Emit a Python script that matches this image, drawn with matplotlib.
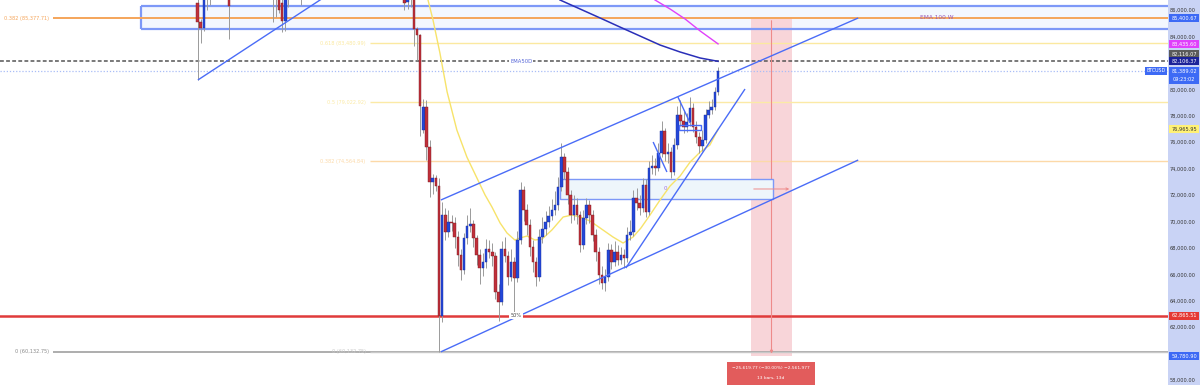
import matplotlib
matplotlib.use('Agg')
import matplotlib.pyplot as plt
from matplotlib.patches import Rectangle
import matplotlib.transforms as mtransforms

plt.rcParams['font.family'] = ['DejaVu Sans']

# ---------------- data ----------------
days = [-77, -76, -75, -74, -73, -67, -53, -52, -51, -50, -49, -48, -44,
        -11, -10, -9, -8, -7, -6, -5, -4, -3, -2, -1,
        0, 1, 2, 3, 4, 5, 6, 7, 8, 9, 10, 11, 12, 13, 14, 15, 16, 17, 18, 19,
        20, 21, 22, 23, 24, 25, 26, 27, 28, 29, 30, 31, 32, 33, 34, 35, 36, 37, 38, 39,
        40, 41, 42, 43, 44, 45, 46, 47, 48, 49, 50, 51, 52, 53, 54, 55, 56, 57, 58, 59,
        60, 61, 62, 63, 64, 65, 66, 67, 68, 69, 70, 71, 72, 73, 74, 75, 76, 77, 78, 79,
        80, 81, 82, 83, 84, 85, 86, 87, 88, 89]
opens = [86530, 85090, 84630, 87800, 87500, 87000, 87600, 87500, 87300, 86500, 85200, 87200, 87600,
         87200, 86600, 87600, 86900, 84560, 84100, 76900, 78660, 75630, 72980, 73300,
         72700, 62866, 70480, 69200, 69960, 69880, 68820, 67460, 66320, 68750, 69650, 69800, 68750, 67460, 66480, 66930, 67910, 67690, 67380, 64660,
         63900, 67910, 67380, 65790, 66930, 65720, 68590, 72380, 70860, 69730, 68060, 66930, 65790, 68820, 69430, 69960, 70410, 70860, 71240, 72600,
         74880, 73740, 72000, 70490, 71240, 70490, 68220, 70260, 71240, 70490, 68970, 67690, 65950, 65340, 65790, 67840, 66930, 67690, 67080, 67460,
         67230, 68970, 69200, 71770, 71390, 71020, 72760, 70710, 74040, 74190, 74040, 75180, 76840, 75100, 75250, 73740, 75780, 78050, 77600, 77150,
         77520, 78580, 77150, 76390, 75710, 76160, 78050, 78430, 78660, 79790]
highs = [87200, 85300, 87600, 88000, 88200, 87300, 87900, 87800, 87600, 86800, 87400, 87800, 88200,
         87600, 87500, 87900, 87100, 84700, 84200, 79300, 79200, 76200, 73600, 73500,
         73300, 71470, 71000, 70900, 70500, 70300, 69300, 67900, 69100, 70500, 71000, 70100, 69000, 67900, 67600, 68700, 68600, 68400, 67700, 65300,
         68500, 68800, 67800, 67900, 67300, 69300, 73000, 72700, 71300, 70200, 68600, 67300, 69400, 70300, 70800, 71200, 71700, 72300, 73400, 75900,
         75200, 74100, 72400, 72000, 71800, 70800, 70900, 71800, 71600, 70900, 69400, 68100, 66600, 66400, 68400, 68300, 68500, 68200, 68100, 67900,
         69600, 70100, 72400, 72500, 72000, 73300, 73200, 74600, 75000, 74800, 75900, 77600, 77100, 75900, 75600, 76300, 78700, 79200, 78400, 78200,
         79400, 79000, 77600, 76800, 76900, 78500, 79100, 79300, 80200, 81700]
lows = [80700, 83500, 84400, 86000, 86400, 83800, 85100, 85500, 85800, 84300, 84400, 86200, 86350,
        86000, 86100, 86200, 83300, 82200, 76500, 76700, 74650, 71850, 72100, 72300,
        60133, 62400, 68600, 68800, 69300, 68000, 66600, 65600, 66000, 68300, 69200, 68100, 66700, 65300, 65900, 66500, 67200, 66600, 64100, 62500,
        63700, 66900, 65200, 65500, 63100, 65400, 68300, 70000, 69000, 67400, 66200, 65100, 65500, 68400, 69000, 69600, 70100, 70500, 70900, 72300,
        73200, 71300, 69900, 70100, 69800, 67700, 67900, 69800, 69900, 68500, 67000, 65300, 64900, 64700, 65500, 66400, 66600, 66700, 66800, 66500,
        66900, 68600, 68900, 70900, 70500, 70700, 70300, 70500, 73600, 73500, 73800, 74900, 74600, 74400, 73300, 73500, 75500, 77200, 76700, 76800,
        77200, 76800, 75900, 75200, 75300, 75900, 77800, 78100, 78400, 79600]
closes = [85090, 84630, 87200, 87300, 87900, 86300, 87300, 87000, 86000, 85200, 87100, 87500, 87900,
          86500, 87300, 86900, 84560, 84100, 78700, 78660, 75630, 72980, 73300, 72700,
          62866, 70480, 69200, 69960, 69880, 68820, 67460, 66320, 68750, 69650, 69800, 68750, 67460, 66480, 66930, 67910, 67690, 67380, 64660, 63900,
          67910, 67380, 65790, 66930, 65720, 68590, 72380, 70860, 69730, 68060, 66930, 65790, 68820, 69430, 69960, 70410, 70860, 71240, 72600, 74880,
          73740, 72000, 70490, 71240, 70490, 68220, 70260, 71240, 70490, 68970, 67690, 65950, 65340, 65790, 67840, 66930, 67690, 67080, 67460, 67230,
          68970, 69200, 71770, 71390, 71020, 72760, 70710, 74040, 74190, 74040, 75180, 76840, 75100, 75250, 73740, 75780, 78050, 77600, 77150, 77520,
          78580, 77150, 76390, 75710, 76160, 78050, 78430, 78660, 79790, 81389.02]

ema50_days = [-3.5, -1.9, 0.3, 2.6, 5.7, 8.9, 12.1, 14.7, 16.9, 19.5, 21.7, 24.2, 25.8, 28.1, 30.6, 32.9,
              36.0, 39.6, 42.4, 45.0, 48.2, 51.4, 55.5, 58.7, 61.9, 64.4, 67.3, 70.5, 73.7, 76.9, 80.1, 83.3, 86.4, 89]
ema50_vals = [86757, 85243, 82746, 79794, 76918, 74875, 73286, 72000, 71091, 69880, 69123, 68594, 68745, 68897, 68594, 68670,
              69350, 70335, 70486, 70335, 70032, 69502, 68821, 68367, 68821, 69502, 70486, 71621, 72680, 73437, 74497, 75253, 75783, 76965.95]
ema200_days = [38.6, 45.0, 51.4, 57.7, 64.1, 70.5, 76.9, 83.3, 89]
ema200_vals = [86757, 86076, 85395, 84713, 84032, 83351, 82822, 82367, 82116.07]
ema100w_days = [68.9, 73.7, 78.5, 83.3, 86.4, 89]
ema100w_vals = [86757, 86076, 85319, 84411, 83881, 83435.60]

upper_channel = [(0.6, 71621), (133.7, 85395)]
lower_channel = [(0.6, 60133), (133.7, 74648)]
wedge_line = [(59.6, 66475), (97.6, 80021)]
left_trend = [(-76.9, 80702), (-31.6, 87741)]
small_line_a = [(68.3, 76011), (72.7, 73740)]
small_line_b = [(76.2, 79416), (80.1, 77448)]

zone_top, zone_bottom, zone_start = 86303, 84562, -95.1
box_top, box_bottom, box_start, box_end = 73210, 71700, 38.6, 106.5
fib_left = [(0.382, 85377.71), (0.0, 60132.75)]
fib_right = [(0.618, 83480.99), (0.5, 79022.92), (0.382, 74564.84), (0.0, 60132.75)]
level_red = 62865.51
level_dashed = 82106.37
last_price = 81389.02
measure_top, measure_bottom = 85400.67, 59780.90
measure_start, measure_end = 99.5, 112.6

tick_values = [86000, 84000, 80000, 78000, 76000, 74000, 72000, 70000, 68000, 66000, 64000, 62000, 60000, 58000]
tick_labels = ['86,000.00', '84,000.00', '80,000.00', '78,000.00', '76,000.00', '74,000.00', '72,000.00',
               '70,000.00', '68,000.00', '66,000.00', '64,000.00', '62,000.00', '60,000.00', '58,000.00']

# ---------------- figure ----------------
fig = plt.figure(figsize=(12, 3.85), dpi=100)
fig.patch.set_facecolor('white')
PW = 1168 / 1200
ax = fig.add_axes([0, 0, PW, 1])
X0, X1 = -140.0, 232.5
ax.set_xlim(X0, X1)
ax.set_ylim(57622, 86757)
for s in ax.spines.values():
    s.set_visible(False)
ax.set_xticks([])
ax.yaxis.tick_right()
ax.set_yticks(tick_values)
ax.set_yticklabels(tick_labels, fontsize=3.6, color='#333333')
ax.tick_params(axis='y', length=0, pad=20)
for lab in ax.get_yticklabels():
    lab.set_horizontalalignment('right')

fig.add_artist(Rectangle((PW, 0), 1 - PW, 1, transform=fig.transFigure,
                         facecolor='#c9d3f5', edgecolor='none', zorder=-1))

PX = 75.68  # price per pixel

# blue zone
ax.add_patch(Rectangle((zone_start, zone_bottom), X1 - zone_start, zone_top - zone_bottom,
                       facecolor='#f3f7fe', edgecolor='none', zorder=1))
ax.hlines([zone_top, zone_bottom], zone_start, X1, color='#7d98f7', lw=1.6, zorder=2)
ax.vlines(zone_start, zone_bottom, zone_top, color='#7d98f7', lw=1.6, zorder=2)

# fib left
ax.hlines(fib_left[0][1], -123.1, X1, color='#f5a55a', lw=1.4, zorder=2)
ax.hlines(fib_left[1][1], -123.1, X1, color='#a0a0a0', lw=1.2, zorder=2)
ax.text(-124.3, fib_left[0][1], '0.382 (85,377.71)', fontsize=3.6, color='#f5a55a', ha='right', va='center')
ax.text(-124.3, fib_left[1][1], '0 (60,132.75)', fontsize=3.6, color='#888888', ha='right', va='center')

# fib right
fr_colors = ['#fbe9a0', '#fbeaa6', '#fcd9a8', '#c8c8c8']
fr_texts = ['0.618 (83,480.99)', '0.5 (79,022.92)', '0.382 (74,564.84)', '0 (60,132.75)']
for (lv, pr), c, t in zip(fib_right, fr_colors, fr_texts):
    ax.hlines(pr, -22.0, X1, color=c, lw=1.0, zorder=2)
    ax.text(-23.4, pr, t, fontsize=3.6, color=c, ha='right', va='center')

# horizontal levels
ax.axhline(level_dashed, color='#555555', lw=1.1, ls=(0, (2.5, 1.5)), zorder=2)
ax.axhline(last_price, color='#a9bdf7', lw=0.9, ls=(0, (1, 1.5)), zorder=2)
ax.axhline(level_red, color='#e03b3b', lw=1.8, zorder=2)
ax.text(24.6, level_red, '50%', fontsize=3.6, color='#444444', ha='center', va='center', zorder=6,
        bbox=dict(boxstyle='square,pad=0.25', fc='white', ec='none'))

# measurement band
ax.add_patch(Rectangle((measure_start, measure_bottom), measure_end - measure_start, measure_top - measure_bottom,
                       facecolor='#f8d5d9', edgecolor='none', zorder=1))
mid = (measure_start + measure_end) / 2
ax.annotate('', xy=(mid, measure_bottom), xytext=(mid, measure_top),
            arrowprops=dict(arrowstyle='-|>', color='#ee8a8a', lw=0.8, mutation_scale=4), zorder=2)

# mid box
ax.add_patch(Rectangle((box_start, box_bottom), box_end - box_start, box_top - box_bottom,
                       facecolor='#eef6fb', edgecolor='#7d98f7', lw=1.0, zorder=2))
ax.text(72.1, (box_top + box_bottom) / 2, '0', fontsize=4, color='#a070e0', ha='center', va='center', zorder=3)
ax.annotate('', xy=(measure_end, (box_top + box_bottom) / 2), xytext=(measure_start, (box_top + box_bottom) / 2),
            arrowprops=dict(arrowstyle='->', color='#ee8a8a', lw=0.7, mutation_scale=4), zorder=3)

# trend lines
for ln in [upper_channel, lower_channel, wedge_line, left_trend, small_line_a, small_line_b]:
    ax.plot([ln[0][0], ln[1][0]], [ln[0][1], ln[1][1]], color='#4a6cf7', lw=1.0, zorder=5,
            solid_capstyle='butt')
ax.add_patch(Rectangle((76.6, 76918), 7.0, 379, facecolor='none', edgecolor='#4a6cf7', lw=1.0, zorder=5))

# EMAs
ax.plot(ema50_days, ema50_vals, color='#f7e36a', lw=1.0, zorder=3)
ax.plot(ema200_days, ema200_vals, color='#2a2fb8', lw=1.1, zorder=3)
ax.plot(ema100w_days, ema100w_vals, color='#e040fb', lw=1.0, zorder=3)

ax.text(26.2, level_dashed, 'EMA50D', fontsize=3.8, color='#5565d8', ha='center', va='center', zorder=6,
        bbox=dict(boxstyle='square,pad=0.2', fc='white', ec='none'))
ax.text(158.9, 85470, 'EMA 100 W', fontsize=4.2, color='#9b59b6', ha='center', va='center', zorder=6)

# candles
up_c, dn_c = '#2347d9', '#c0303a'
up_e, dn_e = '#1a2f9e', '#7a1a22'
bottoms = [min(o, c) for o, c in zip(opens, closes)]
heights = [max(abs(c - o), 40) for o, c in zip(opens, closes)]
cols = [up_c if c >= o else dn_c for o, c in zip(opens, closes)]
ecols = [up_e if c >= o else dn_e for o, c in zip(opens, closes)]
ax.vlines(days, lows, highs, color='#9a9a9a', lw=0.7, zorder=4)
ax.bar(days, heights, bottom=bottoms, width=0.82, color=cols, edgecolor=ecols, linewidth=0.3, zorder=4)

# measurement label
ax.add_patch(Rectangle((91.9, 57622), 28.0, 1740, facecolor='#e25c5c', edgecolor='none', zorder=6, clip_on=False))
ax.text(105.9, 58906, '\u221225,619.77 (\u221230.00%) \u22122,561,977', fontsize=3.2, color='white',
        ha='center', va='center', zorder=7)
ax.text(105.9, 58150, '13 bars, 13d', fontsize=3.2, color='white', ha='center', va='center', zorder=7)

# BTCUSD tag
ax.text(231.6, last_price, 'BTCUSD', fontsize=3.4, color='white', ha='right', va='center', zorder=7,
        bbox=dict(boxstyle='square,pad=0.3', fc='#3d6af5', ec='none'))

# right axis price tags
trans = mtransforms.blended_transform_factory(fig.transFigure, ax.transData)

def tag(price, text, fc, tc, nudge_px=0.0, h_px=8.0):
    y = price + nudge_px * PX
    ax.add_patch(Rectangle((1169 / 1200, y - h_px / 2 * PX), 30 / 1200, h_px * PX, transform=trans,
                           facecolor=fc, edgecolor='none', zorder=10, clip_on=False))
    ax.text(1184 / 1200, y, text, transform=trans, fontsize=3.6, color=tc, ha='center', va='center',
            zorder=11, clip_on=False, linespacing=1.6)

tag(85400.67, '85,400.67', '#3d6af5', 'white')
tag(83435.60, '83,435.60', '#e040fb', 'white')
tag(82116.07, '82,116.07', '#5a5a5a', 'white', nudge_px=7.5)
tag(82106.37, '82,106.37', '#1c2399', 'white')
tag(last_price, '81,389.02\n09:23:02', '#3d6af5', 'white', nudge_px=-4.5, h_px=17)
tag(76965.95, '76,965.95', '#fff176', '#333333')
tag(level_red, '62,865.51', '#e53935', 'white')
tag(measure_bottom, '59,780.90', '#3d6af5', 'white')

fig.savefig('out.png', dpi=100, facecolor='white')
